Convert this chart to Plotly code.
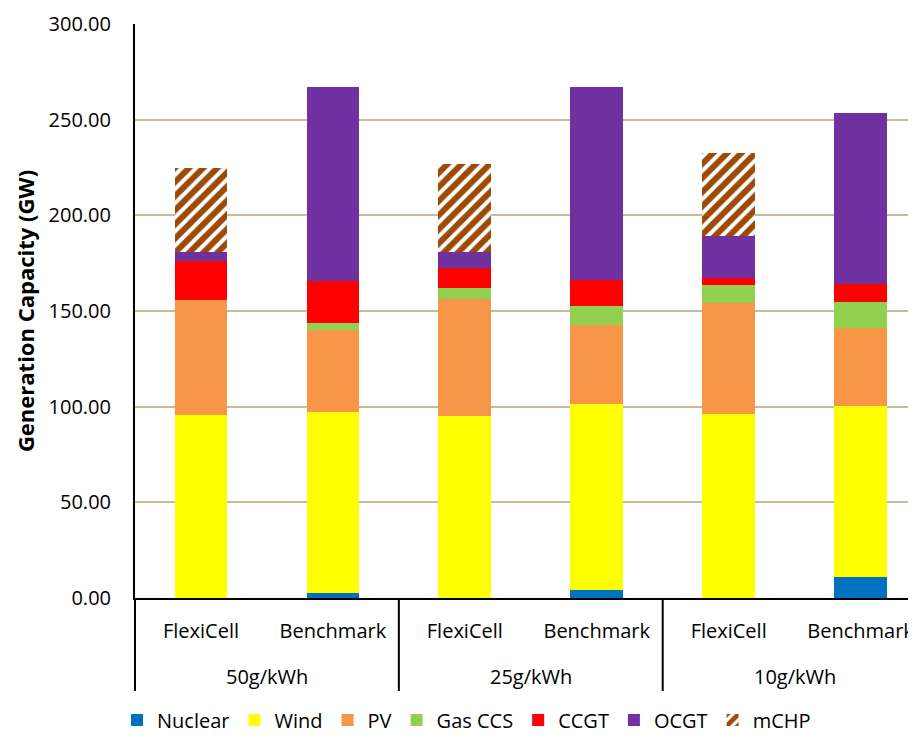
import plotly.graph_objects as go

# generation capacity (GW) per bar
scenarios = ["50g/kWh", "25g/kWh", "10g/kWh"]
models = ["FlexiCell", "Benchmark"]

nuclear = [0, 2.7, 0, 4.4, 0, 11.0]
wind = [95.8, 94.5, 95.2, 97.0, 96.3, 89.2]
pv = [59.9, 42.7, 61.3, 41.2, 57.8, 40.8]
gas_ccs = [0, 3.7, 5.3, 10.2, 9.7, 13.8]
ccgt = [20.6, 22.1, 10.5, 13.6, 3.3, 9.5]
ocgt = [4.8, 101.4, 8.3, 100.7, 22.3, 89.1]
mchp = [43.6, 0, 46.3, 0, 43.3, 0]

FONT = "Open Sans"
x = list(range(len(scenarios) * len(models)))
tick_text = models * len(scenarios)

series = [
    ("Nuclear", nuclear, "#0070C0"),
    ("Wind", wind, "#FFFF00"),
    ("PV", pv, "#F79646"),
    ("Gas CCS", gas_ccs, "#92D050"),
    ("CCGT", ccgt, "#FF0000"),
    ("OCGT", ocgt, "#7030A0"),
]

fig = go.Figure()
for name, vals, col in series:
    fig.add_trace(go.Bar(x=x, y=vals, name=name, marker_color=col,
                         marker_line_width=0))

fig.add_trace(go.Bar(
    x=x, y=mchp, name="mCHP",
    marker=dict(color="white", line_width=0,
                pattern=dict(shape="/", fgcolor="#9C4A06", bgcolor="white",
                             size=10, solidity=0.6, fgopacity=1)),
))

# group labels + divider lines under the category axis
n = len(models)
for i, sc in enumerate(scenarios):
    fig.add_annotation(x=i * n + (n - 1) / 2, y=-0.136, xref="x", yref="paper",
                       yanchor="middle", text=sc, showarrow=False,
                       font=dict(size=20))
fig.add_shape(type="line", xref="paper", yref="paper", x0=0, x1=0,
              y0=0, y1=-0.162, line=dict(color="black", width=2))
for i in range(1, len(scenarios)):
    fig.add_shape(type="line", xref="x", yref="paper",
                  x0=i * n - 0.5, x1=i * n - 0.5, y0=0, y1=-0.162,
                  line=dict(color="black", width=2))

fig.update_layout(
    width=908, height=728,
    barmode="stack", bargap=0.6,
    margin=dict(l=127, r=0, t=16, b=138),
    plot_bgcolor="white", paper_bgcolor="white",
    font=dict(family=FONT, size=20, color="black"),
    showlegend=True,
    legend=dict(orientation="h", traceorder="normal",
                xref="container", yref="container",
                x=0.505, xanchor="center", y=0.022, yanchor="middle",
                font=dict(size=20), itemwidth=30),
)
fig.update_xaxes(
    tickvals=x, ticktext=tick_text, range=[-0.5, 5.42],
    showgrid=False, zeroline=False, ticks="",
    showline=True, linecolor="black", linewidth=2,
    ticklabelstandoff=14,
)
fig.update_yaxes(
    range=[0, 300], dtick=50, tickformat=".2f",
    gridcolor="#C4BD97", gridwidth=1.5, zeroline=False, ticks="",
    showline=True, linecolor="black", linewidth=2,
    ticklabelstandoff=18,
    title=dict(text="<b>Generation Capacity (GW)</b>", standoff=8,
               font=dict(size=22)),
)

fig.write_html("out.html")
